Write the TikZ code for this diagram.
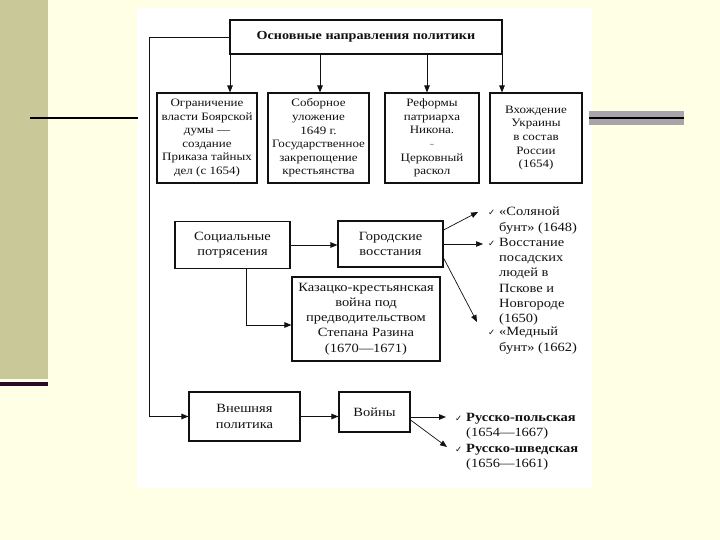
\documentclass[tikz,border=0pt]{standalone}
\usepackage{fontspec}
\setmainfont{Liberation Serif}[FakeStretch=1.15]
\newfontfamily\chkfont{DejaVu Sans}
\usetikzlibrary{arrows.meta,calc}
\newcommand{\chk}{{\chkfont\fontsize{8.5}{8.5}\selectfont ✓}}
\newcommand{\boxsz}{\fontsize{11.3}{13.6}\selectfont}
\newcommand{\mainsz}{\fontsize{12.6}{15.2}\selectfont}
\definecolor{bgc}{HTML}{FFFFE6}
\definecolor{stripc}{HTML}{C8C898}
\definecolor{darkl}{HTML}{2A0A2A}
\definecolor{graybar}{HTML}{A8A4AA}
\definecolor{ink}{HTML}{111111}
\begin{document}
\begin{tikzpicture}[x=1pt,y=-1pt,
  box/.style={draw=ink, line width=1.1pt, inner sep=0pt, align=center, text=ink, font=\boxsz},
  mbox/.style={box, font=\mainsz},
  arr/.style={draw=ink, line width=0.9pt, -{Triangle[length=7pt,width=5.5pt]}},
  item/.style={anchor=north west, inner sep=0pt, align=left, text=ink, font=\mainsz}]
\useasboundingbox (0,0) rectangle (720,540);
\fill[bgc] (0,0) rectangle (720,540);
\fill[stripc] (0,0) rectangle (48,379);
\fill[darkl] (0,382) rectangle (48,386);
\fill[white] (137,8) rectangle (592,488);
\draw[line width=2pt, black] (30,118) -- (138,118);
\fill[graybar] (589,111) rectangle (684,125);
\draw[line width=2pt, black] (589,118) -- (684,118);

% title
\node[box, font=\fontsize{12.3}{15}\selectfont\bfseries, minimum width=272pt, minimum height=34pt] (T) at (366,37) {Основные направления политики};

% four boxes
\node[box, minimum width=100pt, minimum height=90pt] (B1) at (207,138) {Ограничение\\власти Боярской\\думы —\\создание\\Приказа тайных\\дел (с 1654)};
\node[box, minimum width=101pt, minimum height=90pt] (B2) at (318.5,138) {Соборное\\уложение\\1649 г.\\Государственное\\закрепощение\\крестьянства};
\node[box, minimum width=94pt, minimum height=90pt] (B3) at (432,138) {Реформы\\патриарха\\Никона.\\{\color{gray}-}\\Церковный\\раскол};
\node[box, minimum width=92pt, minimum height=90pt] (B4) at (536,138) {Вхождение\\Украины\\в состав\\России\\(1654)};

\coordinate (a1) at (230,0);
\coordinate (a2) at (320,0);
\coordinate (a3) at (427,0);
\coordinate (a4) at (502,0);
\draw[arr] (T.south -| a1) -- (a1 |- B1.north);
\draw[arr] (T.south -| a2) -- (a2 |- B2.north);
\draw[arr] (T.south -| a3) -- (a3 |- B3.north);
\draw[arr] (T.south -| a4) -- (a4 |- B4.north);

% middle
\node[mbox, minimum width=115pt, minimum height=47pt] (S) at (232.5,245) {Социальные\\потрясения};
\node[mbox, minimum width=105pt, minimum height=46pt] (G) at (390.5,244) {Городские\\восстания};
\node[mbox, minimum width=148pt, minimum height=84pt] (K) at (366,319) {Казацко-крестьянская\\война под\\предводительством\\Степана Разина\\(1670—1671)};

\draw[arr] (S.east) -- (S.east -| G.west);
\coordinate (k1) at (246,325);
\draw[arr] (S.south -| k1) -- (k1) -- (k1 -| K.west);

% right list
\node[item] (L1) at (499,207) {\llap{\chk\hspace{4pt}}«Соляной\\бунт» (1648)};
\node[item] (L2) at (499,238) {\llap{\chk\hspace{4pt}}Восстание\\посадских\\людей в\\Пскове и\\Новгороде\\(1650)};
\node[item] (L3) at (499,327) {\llap{\chk\hspace{4pt}}«Медный\\бунт» (1662)};
\coordinate (r1) at (478,212);
\coordinate (r2) at (483,244);
\coordinate (r3) at (477,322);
\draw[arr, line width=0.7pt] ($(G.east)+(0,-14)$) -- (r1);
\draw[arr, line width=0.7pt] (G.east) -- (r2);
\draw[arr, line width=0.7pt] ($(G.east)+(0,14)$) -- (r3);

% bottom
\node[mbox, minimum width=111pt, minimum height=49pt] (V) at (244.5,416.5) {Внешняя\\политика};
\node[mbox, minimum width=71pt, minimum height=40pt] (W) at (374.5,412) {Войны};
\coordinate (lc) at (149,0);
\draw[arr] (T.west) -- (T.west -| lc) -- (lc |- V.west) -- (V.west);
\draw[arr] (V.east) -- (V.east -| W.west);

\node[item] (P1) at (466,413) {\llap{\chk\hspace{4pt}}\textbf{Русско-польская}\\(1654—1667)};
\node[item] (P2) at (466,444) {\llap{\chk\hspace{4pt}}\textbf{Русско-шведская}\\(1656—1661)};
\coordinate (w1) at (446,417);
\coordinate (w2) at (447,447);
\draw[arr] (W.east |- w1) -- (w1);
\draw[arr, line width=0.7pt] ($(W.east |- w1)+(0,3)$) -- (w2);
\end{tikzpicture}
\end{document}
